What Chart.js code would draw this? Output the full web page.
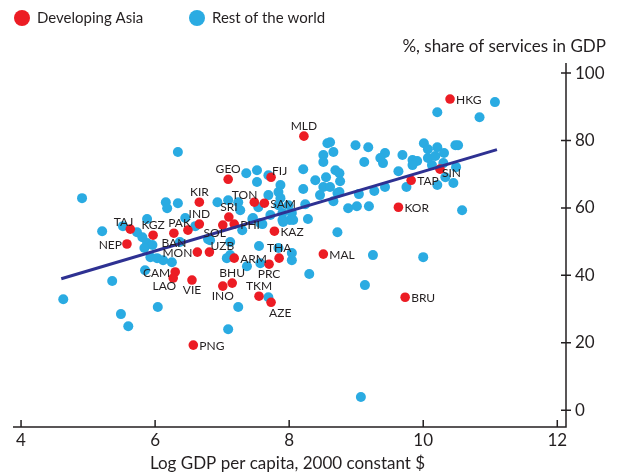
<!DOCTYPE html>
<html lang="en">
<head>
  <meta charset="UTF-8">
  <title>Services share and GDP per capita</title>
  <script src="https://cdn.jsdelivr.net/npm/chart.js"></script>
  <style>
    body {
      margin: 0;
      background: #fff;
    }
  </style>
</head>
<body>
  <canvas id="servicesChart" width="622" height="474"></canvas>

  <script>
    // Developing Asia economies (log GDP per capita, services share %)
    const asiaNames = ["HKG", "MLD", "GEO", "FIJ", "KIR", "TON", "SAM", "SRI", "IND", "SOL",
                       "PHI", "PAK", "BAN", "KGZ", "TAJ", "NEP", "KAZ", "MON", "UZB", "ARM",
                       "THA", "PRC", "MAL", "CAM", "LAO", "VIE", "BHU", "INO", "TKM", "AZE",
                       "PNG", "BRU", "KOR", "TAP", "SIN"];
    const asiaX = [10.40, 8.22, 7.09, 7.73, 6.66, 7.48, 7.63, 7.10, 6.66, 7.01,
                   7.18, 6.49, 6.28, 5.97, 5.63, 5.58, 7.78, 6.63, 6.81, 7.18,
                   7.85, 7.70, 8.51, 6.30, 6.27, 6.55, 7.15, 7.01, 7.55, 7.73,
                   6.57, 9.73, 9.63, 9.82, 10.25];
    const asiaY = [92.3, 81.3, 68.5, 69.1, 61.7, 61.7, 61.4, 57.3, 55.2, 54.9,
                   55.2, 53.4, 52.5, 51.9, 53.7, 49.3, 53.1, 46.9, 46.9, 45.1,
                   45.1, 43.3, 46.3, 41.0, 39.2, 38.6, 37.7, 36.8, 33.8, 32.0,
                   19.3, 33.5, 60.2, 68.2, 71.5];

    // Rest of the world
    const restX = [4.63, 4.91, 5.21, 6.34, 5.36, 5.49, 5.60, 6.04, 7.09, 7.24,
                   7.69, 8.30, 9.13, 9.07, 5.85, 6.16, 6.18, 6.34, 5.88, 6.45,
                   6.60, 6.93, 5.52, 5.73, 5.81, 5.88, 5.96, 5.84, 5.93, 6.03,
                   6.12, 6.25, 6.79, 6.37, 8.57, 8.99, 8.66, 8.51, 8.51, 8.21,
                   8.69, 8.75, 8.39, 8.55, 8.76, 8.51, 8.61, 8.46, 8.72, 8.66,
                   8.88, 9.01, 8.21, 8.24, 8.28, 8.72, 7.36, 7.52, 7.52, 7.69,
                   7.87, 7.84, 7.87, 7.69, 7.84, 7.99, 8.04, 7.90, 7.90, 8.01,
                   7.72, 7.54, 7.27, 7.24, 7.09, 7.45, 7.60, 7.30, 7.12, 7.55,
                   7.84, 7.07, 7.37, 7.57, 8.04, 10.21, 10.84, 11.07, 9.18, 9.43,
                   9.36, 9.40, 9.69, 9.12, 8.61, 9.84, 9.91, 9.84, 9.63, 10.01,
                   10.07, 10.21, 10.31, 10.48, 10.52, 10.07, 10.18, 10.30, 10.13, 10.49,
                   10.33, 10.45, 10.21, 9.75, 9.43, 9.27, 9.04, 8.75, 9.19, 10.58,
                   9.25, 10.00, 7.46, 7.57, 7.91, 8.06, 6.82, 7.12, 8.04];
    const restY = [32.9, 62.9, 53.1, 76.6, 38.3, 28.5, 24.9, 30.6, 24.0, 30.6,
                   33.5, 40.4, 37.1, 3.9, 41.5, 61.7, 59.9, 61.4, 56.7, 57.0,
                   54.6, 61.7, 54.6, 52.8, 51.3, 49.6, 49.0, 48.1, 45.4, 45.1,
                   44.5, 43.9, 50.7, 49.9, 79.2, 78.6, 76.6, 75.7, 73.6, 71.5,
                   71.2, 70.3, 68.2, 69.1, 67.9, 66.2, 66.2, 63.8, 64.4, 62.0,
                   59.9, 60.5, 65.6, 61.1, 56.7, 52.8, 70.3, 71.2, 67.7, 69.7,
                   66.8, 64.7, 62.9, 63.8, 60.8, 60.8, 58.5, 58.5, 56.4, 56.4,
                   57.9, 60.2, 59.3, 61.7, 62.3, 56.7, 55.2, 53.4, 49.9, 48.7,
                   48.1, 45.1, 42.7, 43.6, 44.5, 88.4, 86.9, 91.4, 78.0, 76.3,
                   74.8, 73.3, 75.7, 73.6, 79.5, 74.2, 73.9, 72.7, 70.9, 79.2,
                   77.4, 78.0, 76.3, 78.6, 78.6, 74.8, 75.4, 73.3, 72.7, 72.1,
                   69.1, 67.4, 66.8, 66.2, 66.2, 65.0, 64.1, 64.7, 60.5, 59.3,
                   46.0, 45.4, 57.0, 55.5, 55.8, 56.4, 50.4, 46.0, 46.6];

    // Fitted line (end points)
    const fitX = [4.6, 11.1];
    const fitY = [39.0, 77.3];

    const xTicks = [4, 6, 8, 10, 12];
    const yTicks = [0, 20, 40, 60, 80, 100];

    // which side of its dot each country code sits
    const labelSide = {
      HKG: "r", MLD: "t", GEO: "t", FIJ: "tr", KIR: "t", TON: "tl", SAM: "r", SRI: "t",
      IND: "t", SOL: "bl", PHI: "r", PAK: "tl", BAN: "b", KGZ: "t", TAJ: "tl", NEP: "l",
      KAZ: "r", MON: "l", UZB: "tr", ARM: "r", THA: "t", PRC: "b", MAL: "r", CAM: "l",
      LAO: "bl", VIE: "b", BHU: "t", INO: "b", TKM: "t", AZE: "br", PNG: "r", BRU: "r",
      KOR: "r", TAP: "r", SIN: "rb"
    };

    const FONT = "Lato, 'Open Sans', sans-serif";
    const INK = "#231f20";
    const RED = "#ec1c24";
    const BLUE = "#2aabe2";

    const sides = {
      r:  { align: "left",   dx: 6,  dy: 1 },
      rb: { align: "left",   dx: 2,  dy: 4 },
      l:  { align: "right",  dx: -5, dy: 1 },
      t:  { align: "center", dx: 0,  dy: -10 },
      b:  { align: "center", dx: 0,  dy: 10 },
      tl: { align: "right",  dx: 3,  dy: -7 },
      tr: { align: "left",   dx: 1,  dy: -6 },
      bl: { align: "right",  dx: 3,  dy: 8 },
      br: { align: "left",   dx: -2, dy: 11 }
    };

    // axes, tick marks, country codes, legend and titles
    const annotations = {
      id: "annotations",
      afterDatasetsDraw(chart) {
        const ctx = chart.ctx;
        const area = chart.chartArea;
        const xs = chart.scales.x;
        const ys = chart.scales.y;
        ctx.save();

        ctx.strokeStyle = INK;
        ctx.lineWidth = 1.5;
        ctx.beginPath();
        ctx.moveTo(area.left, area.bottom);
        ctx.lineTo(area.right, area.bottom);
        ctx.lineTo(area.right, area.top);
        xTicks.forEach(v => {
          const px = xs.getPixelForValue(v);
          ctx.moveTo(px, area.bottom);
          ctx.lineTo(px, area.bottom - 7);
        });
        yTicks.forEach(v => {
          const py = ys.getPixelForValue(v);
          ctx.moveTo(area.right - 5, py);
          ctx.lineTo(area.right + 5, py);
        });
        ctx.stroke();

        // country codes next to the red dots
        const meta = chart.getDatasetMeta(1);
        ctx.fillStyle = INK;
        ctx.font = "12px " + FONT;
        ctx.textBaseline = "middle";
        meta.data.forEach((pt, i) => {
          const s = sides[labelSide[asiaNames[i]]];
          ctx.textAlign = s.align;
          ctx.fillText(asiaNames[i], pt.x + s.dx, pt.y + s.dy);
        });

        // legend
        ctx.font = "15px " + FONT;
        ctx.textAlign = "left";
        [[RED, "Developing Asia", 22], [BLUE, "Rest of the world", 197]].forEach(([c, t, x]) => {
          ctx.fillStyle = c;
          ctx.beginPath();
          ctx.arc(x, 18, 8, 0, Math.PI * 2);
          ctx.fill();
          ctx.fillStyle = INK;
          ctx.fillText(t, x + 15, 18);
        });

        // axis titles
        ctx.font = "17px " + FONT;
        ctx.textAlign = "right";
        ctx.fillText("%, share of services in GDP", 606, 47);
        ctx.textAlign = "center";
        ctx.fillText("Log GDP per capita, 2000 constant $", (area.left + area.right) / 2 - 2, 464);
        ctx.restore();
      }
    };

    const ctx = document.getElementById("servicesChart").getContext("2d");
    new Chart(ctx, {
      type: "scatter",
      data: {
        datasets: [
          {
            label: "Fitted line",
            type: "line",
            data: fitX.map((x, i) => ({ x: x, y: fitY[i] })),
            borderColor: "#2e3192",
            borderWidth: 3,
            pointRadius: 0,
            fill: false,
            order: 0
          },
          {
            label: "Developing Asia",
            data: asiaX.map((x, i) => ({ x: x, y: asiaY[i] })),
            backgroundColor: RED,
            borderWidth: 0,
            pointRadius: 4.8,
            order: 1
          },
          {
            label: "Rest of the world",
            data: restX.map((x, i) => ({ x: x, y: restY[i] })),
            backgroundColor: BLUE,
            borderWidth: 0,
            pointRadius: 5,
            order: 2
          }
        ]
      },
      options: {
        responsive: false,
        animation: false,
        layout: { padding: { left: 13, top: 63, right: 0, bottom: 0 } },
        plugins: {
          legend: { display: false },
          tooltip: { enabled: false }
        },
        scales: {
          x: {
            type: "linear",
            min: 3.88,
            max: 12.13,
            grid: { display: false, drawTicks: false },
            border: { display: false },
            afterBuildTicks: s => { s.ticks = xTicks.map(v => ({ value: v })); },
            afterFit: s => { s.height = 47; },
            ticks: { color: INK, padding: 3, font: { family: FONT, size: 17 } }
          },
          y: {
            type: "linear",
            position: "right",
            min: -5,
            max: 103,
            grid: { display: false, drawTicks: false },
            border: { display: false },
            afterBuildTicks: s => { s.ticks = yTicks.map(v => ({ value: v })); },
            afterFit: s => { s.width = 56; },
            ticks: { color: INK, padding: 9, font: { family: FONT, size: 17 } }
          }
        }
      },
      plugins: [annotations]
    });
  </script>
</body>
</html>
